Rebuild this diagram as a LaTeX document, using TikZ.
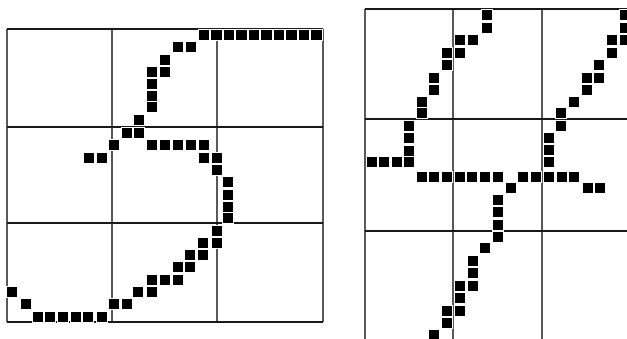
\documentclass[tikz,border=0pt]{standalone}
\begin{document}
\begin{tikzpicture}[x=1pt,y=-1pt,
  vline/.style={line width=1.6pt,black!65},
  hline/.style={line width=1.3pt,black!90}]
\useasboundingbox (0,0) rectangle (627,338);
\fill[white] (0,0) rectangle (627,338);
% left grid
\foreach \gx in {7,112,217,323} \draw[vline] (\gx,29) -- (\gx,322);
\foreach \gy in {29,127,223,322} \draw[hline] (7,\gy) -- (323,\gy);
% right grid
\foreach \gx in {365,453,542} \draw[vline] (\gx,9) -- (\gx,340);
\foreach \gy in {9,119,231} \draw[hline] (365,\gy) -- (630,\gy);
\def\pxlist{204/35,216.5/35,229/35,241.5/35,254/35,266.5/35,279/35,291.5/35,304/35,316.5/35,
178/47,191/47,165/60,152/72,165/72,152/84,152/96,152/107,
139/120,127/133,139/133,
114/145,152/145,165/145,178/145,191/145,204/145,
89/158,102/158,204/158,217/158,217/170,
228/182,228/195,228/207,228/218,
217/231,203/243,217/243,190/255,203/255,178/267,190/267,
152/280,165/280,178/280,138/292,152/292,114/304,127/304,
12/292,26/304,38/317,50/317,63/317,76/317,88/317,102/317,
487/15,487/28,460/40,473/40,447/53,460/53,447/65,434/78,434/90,422/102,422/113,
409/126,409/138,409/151,
372/162,384/162,397/162,409/162,
422/177,434/177,447/177,460/177,472/177,485/177,498/177,
523/177,536/177,549/177,562/177,574/177,
511/188,588/188,600/188,
498/200,498/212,498/225,498/237,
485/248,473/261,473/273,460/286,473/286,460/298,447/311,460/311,447/323,434/335,
625/15,625/28,612/40,625/40,612/53,599/65,587/78,599/78,587/90,574/102,
561/113,561/126,549/138,549/150,549/162}
\foreach \px/\py in \pxlist \fill[white] (\px-6.3,\py-6.3) rectangle ++(12.6,12.6);
\foreach \px/\py in \pxlist \fill[black] (\px-5.2,\py-5.2) rectangle ++(10.4,10.4);
\end{tikzpicture}
\end{document}
